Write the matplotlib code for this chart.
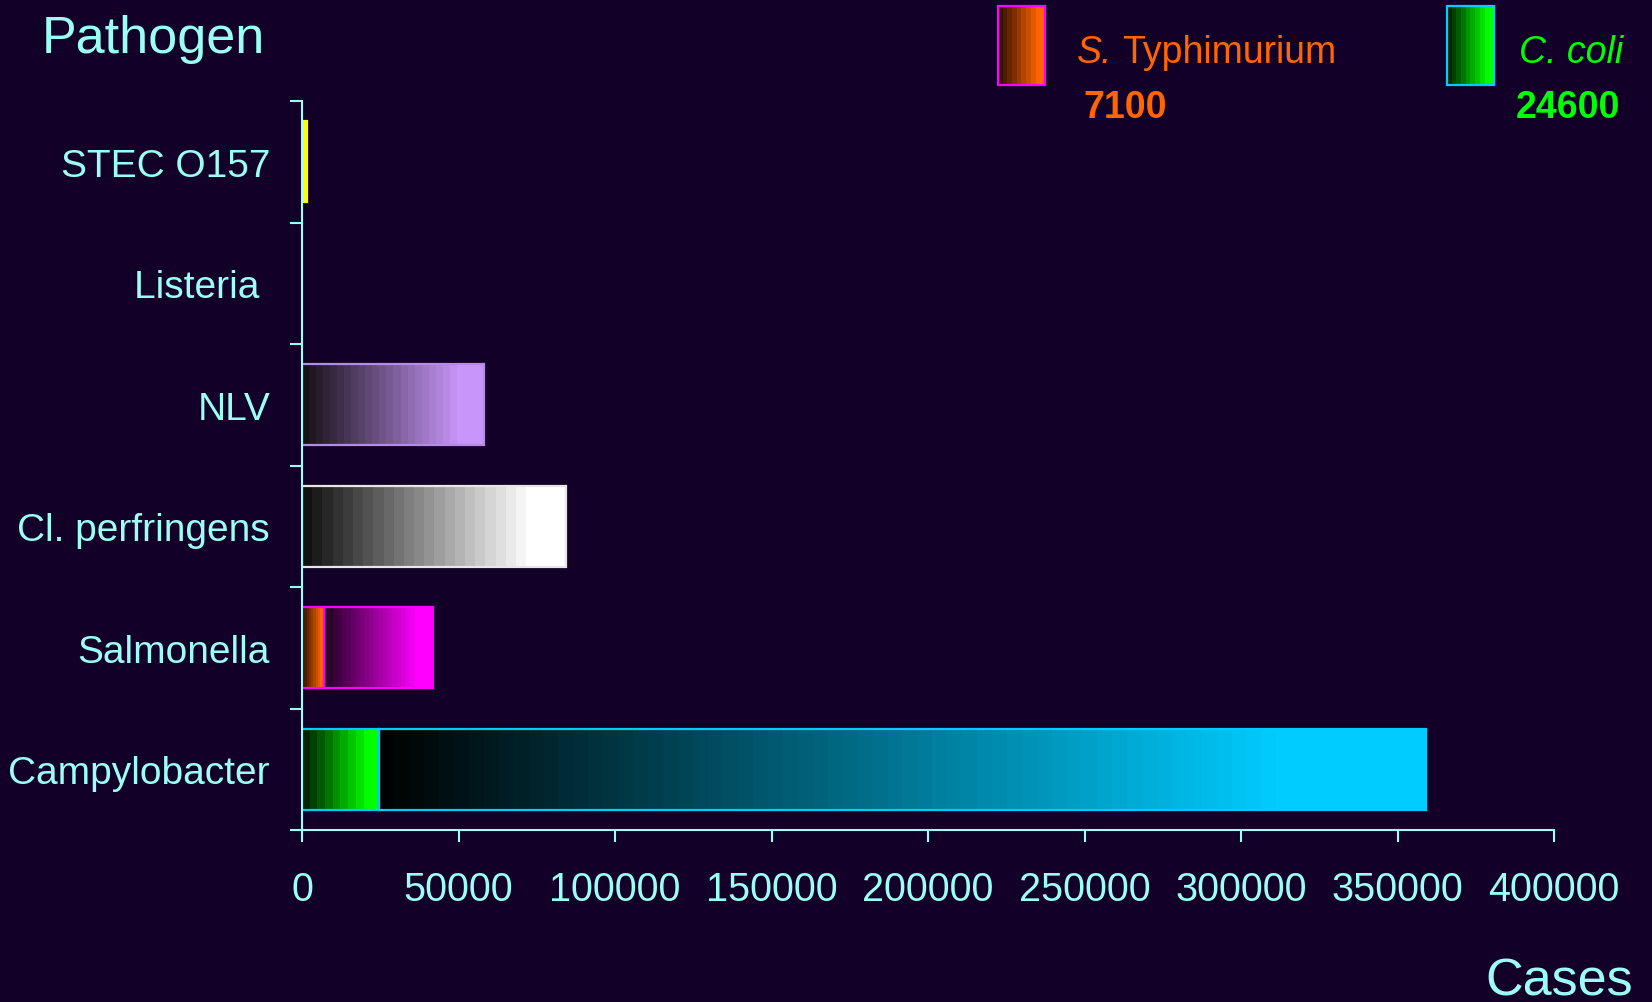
import matplotlib
matplotlib.use("Agg")
import matplotlib.pyplot as plt
import numpy as np
from matplotlib.colors import to_rgb

# Estimated cases by pathogen (top to bottom)
pathogens = ["STEC O157", "Listeria ", "NLV", "Cl. perfringens", "Salmonella", "Campylobacter"]
cases = [1500, 194, 58300, 84500, 41850, 359000]

# serotype / species shown separately inside the stacked bars
sub_names = ["S. Typhimurium", "C. coli"]
sub_parent = ["Salmonella", "Campylobacter"]
sub_cases = [7100, 24600]

BG = "#130029"
FG = "#9CFFF4"

# (dark end, bright end, edge) of each bar's gradient
bar_style = {
    "STEC O157": ("#FFFF00", "#FFFF00", "#FFFF00"),
    "Listeria ": ("#101010", "#FFFF99", None),
    "NLV": ("#121012", "#C896FA", "#B48CE6"),
    "Cl. perfringens": ("#0C0C0C", "#FFFFFF", "#E6E6E6"),
    "Salmonella": ("#1E001E", "#FF00FF", "#FF00FF"),
    "Campylobacter": ("#000000", "#00CCFF", "#00CCFF"),
}
sub_style = {
    "S. Typhimurium": ("#2A0C00", "#FF6600", "#FF00FF"),
    "C. coli": ("#001800", "#00FF00", "#00CCFF"),
}
sub_text_color = {"S. Typhimurium": "#FF6600", "C. coli": "#00FF00"}

plt.rcParams["font.family"] = ["Liberation Sans", "DejaVu Sans"]


def gradient(c0, c1, steps, flat=0.86):
    t = np.clip((np.arange(steps) + 0.5) / steps / flat, 0, 1)
    a, b = np.array(to_rgb(c0)), np.array(to_rgb(c1))
    return (a[None, :] + (b - a)[None, :] * t[:, None])[None, :, :]


def fill_bar(ax, rect, c0, c1, edge, steps, z=2):
    x, y, w, h = rect.get_x(), rect.get_y(), rect.get_width(), rect.get_height()
    if w <= 0:
        return
    ax.imshow(gradient(c0, c1, steps), extent=(x, x + w, y + h, y),
              aspect="auto", interpolation="nearest", zorder=z)
    if edge:
        ax.add_patch(plt.Rectangle((x, y), w, h, fill=False, ec=edge, lw=1.6,
                                   zorder=z + 0.5))


fig = plt.figure(figsize=(16.52, 10.03), dpi=100, facecolor=BG)
ax = fig.add_axes([302 / 1652, 1 - 831 / 1003, 1252 / 1652, 729 / 1003])
ax.set_facecolor(BG)

ypos = np.arange(len(pathogens))
height = 0.67
sub_lookup = dict(zip(sub_parent, zip(sub_names, sub_cases)))

for i, (name, total) in enumerate(zip(pathogens, cases)):
    c0, c1, edge = bar_style[name]
    if name in sub_lookup:
        sname, sval = sub_lookup[name]
        s0, s1, sedge = sub_style[sname]
        sub = ax.barh(ypos[i], sval, height=height, color="none")[0]
        rest = ax.barh(ypos[i], total - sval, left=sval, height=height, color="none")[0]
        fill_bar(ax, sub, s0, s1, sedge, 10)
        fill_bar(ax, rest, c0, c1, edge, 70 if total > 200000 else 24)
    else:
        bar = ax.barh(ypos[i], total, height=height, color="none")[0]
        fill_bar(ax, bar, c0, c1, edge, 26)

ax.set_xlim(0, 400000)
ax.set_ylim(len(pathogens) - 0.5, -0.5)

ax.set_xticks(np.arange(0, 400001, 50000))
ax.set_xticklabels([f"{v:d}" for v in range(0, 400001, 50000)])
ax.set_yticks(ypos)
ax.set_yticklabels(pathogens)
ax.set_yticks(np.arange(-0.5, len(pathogens)), minor=True)
ax.tick_params(axis="x", colors=FG, labelsize=28.5, length=8.5, width=1.5,
               direction="out", pad=20)
ax.tick_params(axis="y", which="major", colors=FG, labelsize=28, length=0, pad=23)
ax.tick_params(axis="y", which="minor", colors=FG, length=9, width=1.5,
               direction="out")
for lab in ax.get_xticklabels() + ax.get_yticklabels():
    lab.set_color(FG)

for side in ("top", "right"):
    ax.spines[side].set_visible(False)
for side in ("left", "bottom"):
    ax.spines[side].set_color(FG)
    ax.spines[side].set_linewidth(1.5)

fig.text(42 / 1652, 1 - 53 / 1003, "Pathogen", color=FG, fontsize=37.5,
         ha="left", va="baseline")
fig.text(1633 / 1652, 1 - 996 / 1003, "Cases", color=FG, fontsize=37.5,
         ha="right", va="baseline")

# key for the subtype segments, drawn in pixel coordinates across the top
key = fig.add_axes([0, 0, 1, 1], facecolor="none")
key.set_xlim(0, 1652)
key.set_ylim(1003, 0)
key.axis("off")
swatch_x = [998, 1447]
text_x = [1077, 1519]
num_x = [1083, 1516]
for sname, sval, sx, tx, nx in zip(sub_names, sub_cases, swatch_x, text_x, num_x):
    s0, s1, sedge = sub_style[sname]
    sw = plt.Rectangle((sx, 7), 47, 79, fill=False)
    fill_bar(key, sw, s0, s1, sedge, 10)
    col = sub_text_color[sname]
    genus, rest = sname.split(" ", 1)
    if sname.startswith("S."):
        t = key.text(tx, 63, genus, color=col, fontsize=27, style="italic",
                     ha="left", va="baseline")
        fig.canvas.draw()
        bb = t.get_window_extent()
        key.text(tx + bb.width + 10, 63, rest, color=col, fontsize=27,
                 ha="left", va="baseline")
    else:
        key.text(tx, 63, sname, color=col, fontsize=27, style="italic",
                 ha="left", va="baseline")
    key.text(nx, 118, f"{sval}", color=col, fontsize=27, weight="bold",
             ha="left", va="baseline")
key.set_xlim(0, 1652)
key.set_ylim(1003, 0)

fig.savefig("out.png", dpi=100, facecolor=BG)
